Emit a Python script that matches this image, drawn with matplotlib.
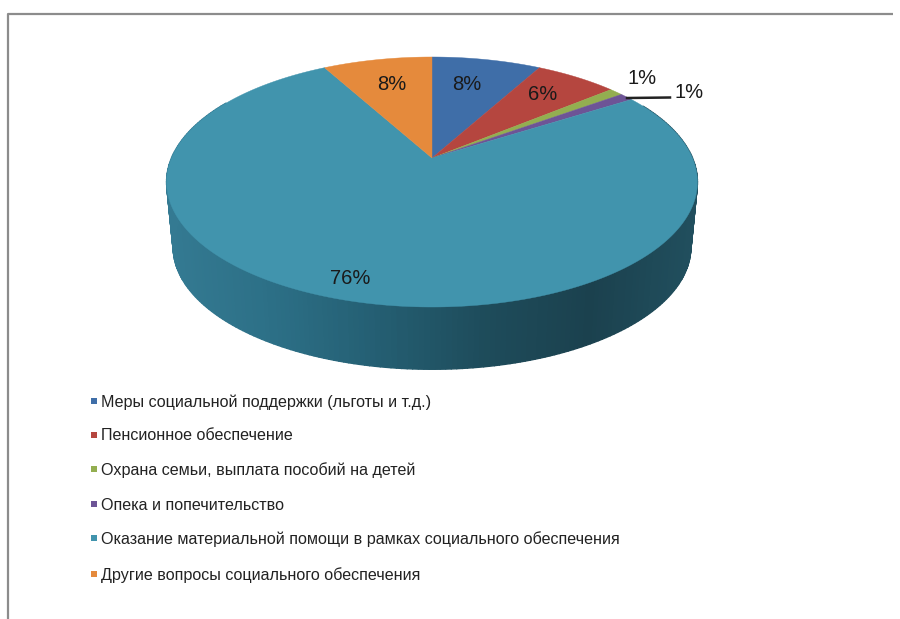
import numpy as np
import matplotlib
matplotlib.use("Agg")
import matplotlib.pyplot as plt
from matplotlib.patches import Polygon, Rectangle
from matplotlib.colors import LinearSegmentedColormap

categories = [
    "Меры социальной поддержки (льготы и т.д.)",
    "Пенсионное обеспечение",
    "Охрана семьи, выплата пособий на детей",
    "Опека и попечительство",
    "Оказание материальной помощи в рамках социального обеспечения",
    "Другие вопросы социального обеспечения",
]
values = [8, 6, 1, 1, 76, 8]
value_labels = ["8%", "6%", "1%", "1%", "76%", "8%"]

colors = ["#3f6ea8", "#b5463f", "#93ae50", "#6d5496", "#4194ad", "#e58a3c"]
label_xy = [(467, 85), (543, 95), (642, 79), (689, 92), (350, 279), (392, 85)]
legend_y = [402, 436, 470, 505, 539, 575]

CX, CY = 432, 158
A, B, K = 120.4, 260.5, -0.192
FONT = "Liberation Sans"


def project(theta, scale=1.0, yc=CY):
    """Clockwise angle from the top of the pie -> picture position (perspective)."""
    u, v = np.sin(theta), -np.cos(theta)
    d = 1 + K * v
    return CX + scale * B * u / d, yc + scale * A * v / d


fig = plt.figure(figsize=(9.0, 6.19), dpi=100)
ax = fig.add_axes([0, 0, 1, 1])
ax.set_xlim(0, 900)
ax.set_ylim(619, 0)
ax.axis("off")

# outer frame
ax.plot([8, 8, 893], [619, 14, 14], color="#8c8c8c", lw=1.6, solid_capstyle="butt")

# side wall
cmap = LinearSegmentedColormap.from_list(
    "wall", ["#347a92", "#2c6f86", "#245e72", "#1e4c5b", "#1b414e", "#214f5e"])
angles = np.radians(np.linspace(62, 300, 240))
for a0, a1 in zip(angles[:-1], angles[1:]):
    xt, yt = project(np.array([a0, a1]))
    xb, yb = project(np.array([a0, a1]), 0.975, 224)
    frac = (xt.mean() - 166) / 531
    col = cmap(frac)
    ax.add_patch(Polygon([(xt[0], yt[0]), (xt[1], yt[1]), (xb[1], yb[1]), (xb[0], yb[0])],
                         closed=True, fc=col, ec=col, lw=1.0))

# top face
start = 0.0
total = sum(values)
for val, col in zip(values, colors):
    end = start + val / total * 2 * np.pi
    th = np.linspace(start, end, max(4, int(val * 6)))
    x, y = project(th)
    ax.add_patch(Polygon(np.r_[[[CX, CY]], np.c_[x, y]], closed=True, fc=col, ec=col, lw=0.3))
    start = end

# leader line for the last small slice
ax.plot([627, 670], [98, 97.5], color="#222222", lw=1.8)

# data labels
for txt, (lx, ly) in zip(value_labels, label_xy):
    ax.text(lx, ly, txt, fontsize=14.5, family=FONT, color="#1a1a1a", ha="center", va="center")

# legend
for name, col, ly in zip(categories, colors, legend_y):
    ax.add_patch(Rectangle((91, ly - 4), 6, 6, fc=col, ec="none"))
    ax.text(101, ly, name, fontsize=11.64, family=FONT, color="#222222", ha="left", va="center")

fig.savefig("out.png", dpi=100)
